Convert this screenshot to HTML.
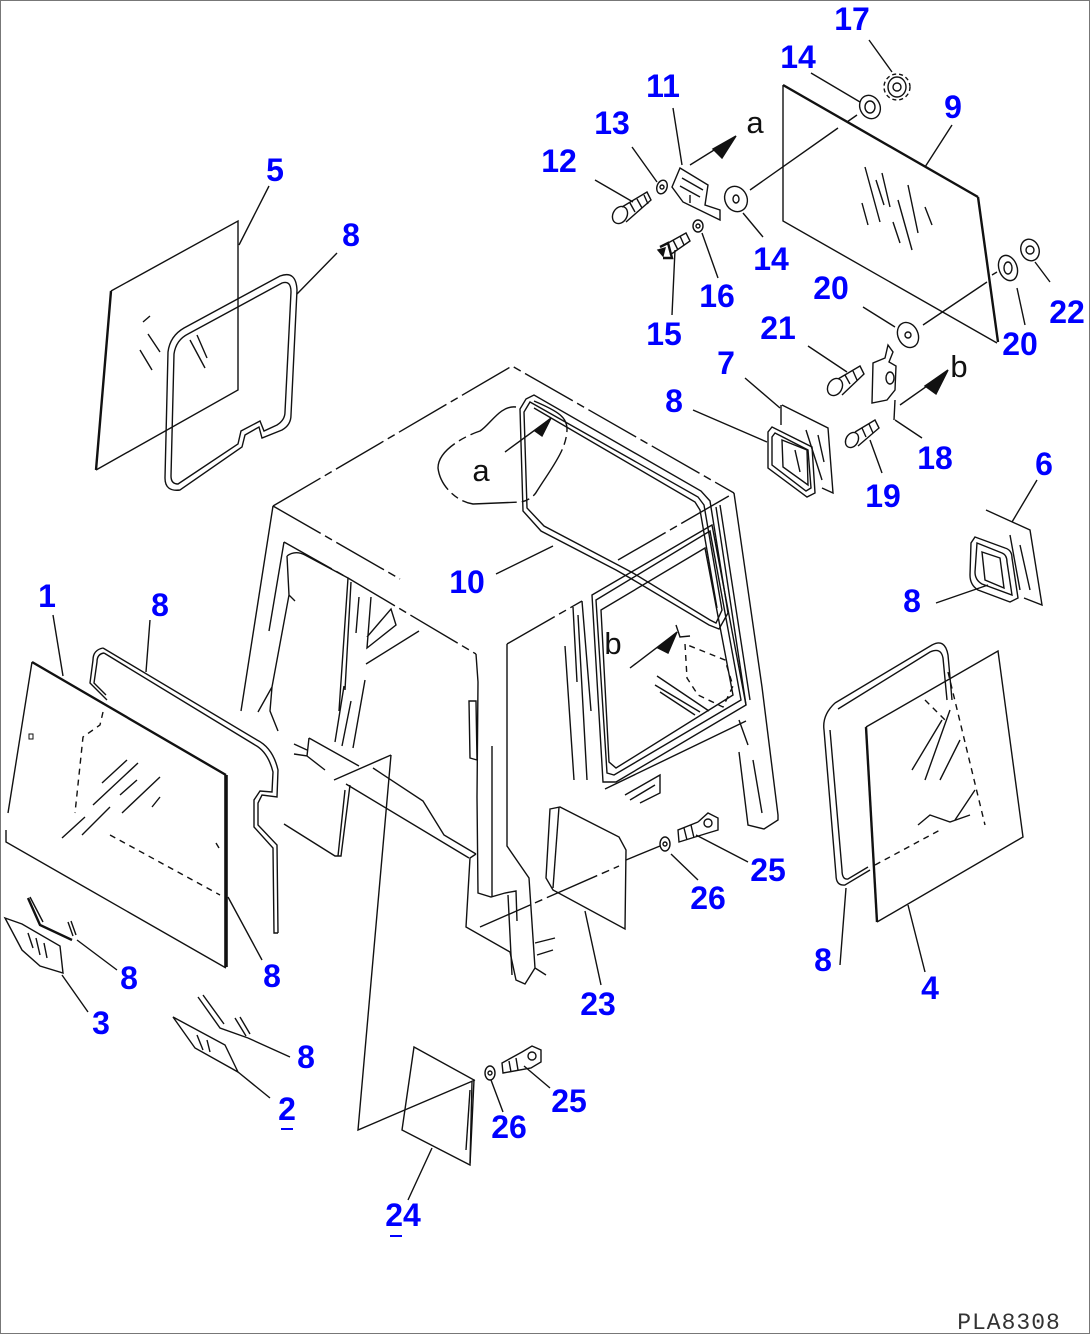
<!DOCTYPE html>
<html><head><meta charset="utf-8"><style>
html,body{margin:0;padding:0;background:#fff}
svg{display:block}
text{font-family:"Liberation Sans",sans-serif;font-size:32px;font-weight:bold;fill:#0000ff;text-anchor:middle}
text.k{fill:#111;font-size:31px;font-weight:normal}
path,line{fill:none;stroke:#111;stroke-width:1.4}
.b{stroke-width:2.4}
.t{stroke-width:3.6}
.d{stroke-dasharray:6 5}
.c{stroke-dasharray:55 5 8 5}
.f{fill:#111}
.u{stroke:#0000ff;stroke-width:2}
circle,ellipse{fill:none;stroke:#111;stroke-width:1.4}
</style></head><body>
<svg width="1090" height="1334" viewBox="0 0 1090 1334" xmlns="http://www.w3.org/2000/svg">
<rect x="0.5" y="0.5" width="1089" height="1333" fill="#fff" stroke="#777"/>

<!-- 5 glass -->
<path class="b" d="M111 291L96 470"/><path d="M111 291L238 221L238 390L96 470"/>
<path d="M143 322L150 316M148 334L160 352M190 340L205 368M140 350L152 370M197 335L207 358"/>
<!-- 5 seal -->
<path d="M168 352Q170 336 184 328L280 276Q296 270 297 290L291 415Q291 425 282 430L262 438L259 427L245 435L242 447L180 490Q165 492 165 478Z"/>
<path d="M174 354Q176 340 188 334L282 283Q291 280 291 292L285 412Q285 420 277 425L264 431L260 421L241 431L238 444L178 484Q171 484 171 476Z"/>

<!-- 1 glass -->
<path class="b" d="M32 662L226 775"/><path class="t" d="M226 775L226 967"/>
<path d="M32 662L8 813M6 830L6 842L226 968"/>
<path d="M62 838L85 817M82 835L110 807M93 805L138 763M102 783L127 760M120 795L137 780M122 813L160 777M152 807L160 797"/>
<path class="d" d="M103 712L100 725L83 737L75 813"/>
<path class="d" d="M110 835L220 895" stroke-width="2.2"/>
<path d="M216 843L219 848"/>
<rect x="29" y="734" width="4" height="5" fill="none" stroke="#111"/>
<!-- 1 seal -->
<path d="M103 648Q93 650 93 660L90 683L107 700M103 648L257 740Q273 748 278 770L277 797L262 795L258 803L258 825L277 845L278 933"/>
<path d="M104 653Q97 654 97 662L94 683L106 695M104 653L255 745Q268 752 273 772L272 792L260 791L254 800L254 827L273 848L274 933L278 933"/>

<!-- 3 -->
<path d="M5 918L22 924L60 946L63 973L40 966L22 950Z"/><path d="M28 933L33 948M36 938L40 955M44 943L47 958"/>
<path class="b" d="M28 898L40 925L72 940"/><path d="M30 897L43 922M68 922L73 936M71 921L76 935"/>
<!-- 2 -->
<path d="M173 1017L225 1045L238 1072L195 1048Z"/><path d="M197 1035L203 1050M207 1040L210 1052"/>
<path d="M198 997L220 1028L248 1038M203 995L224 1024M235 1018L246 1036M240 1017L250 1034"/>

<!-- cab top -->
<path class="c" d="M273 506L512 366L734 493"/>
<path class="c" d="M273 506L400 579"/>
<path class="c" d="M284 542L348 578L476 654"/>
<path class="c" d="M618 560L734 493"/>
<path d="M273 506L241 711M284 542L269 631M258 712L272 687L289 595L295 601M287 556L289 595M272 687L270 711L278 731M287 556Q295 550 305 555L348 578"/>
<path d="M734 493L762 687L778 815L778 820L764 829L748 825L739 752M753 760L762 813"/>
<path d="M476 654L478 682L477 797L478 893L491 897L505 893L516 891L517 921M492 746L492 897"/>
<path d="M469 701L476 701L477 760L470 758Z"/>
<path d="M507 644L507 846L529 878L535 968L546 975M535 968L525 984L516 980L510 952L466 927L470 858L476 854"/>
<path class="c" d="M507 644L582 601"/>
<path d="M582 601L591 711M573 607L577 682M565 646L574 780M578 615L587 780"/>
<path d="M535 943L555 938M537 955L553 950M508 895L512 975"/>
<!-- left inner -->
<path d="M348 578L339 711M351 582L345 690M359 597L356 633M365 680L353 748M351 701L342 746M344 686L335 742M371 597L367 648L396 625L391 609L367 637M366 664L419 631"/>
<path d="M309 738L307 756L294 754M294 744L307 750M307 756L325 770M309 738L359 766M334 780L391 755M391 755L358 1130L475 1080"/>
<path d="M373 768L423 801L444 835L476 854M346 784L469 858M350 785L341 856L335 856L284 824"/>
<path d="M345 790L338 856"/>
<!-- window -->
<path d="M592 595L712 525L746 705L616 782L603 782L592 595Z"/>
<path d="M596 600L710 531L741 700L614 775L607 773Z"/>
<path d="M601 610L705 548L733 695L616 768L609 762Z"/>
<path d="M716 507L746 705M720 505L750 700"/>
<path d="M605 789L746 721M625 795L660 775L660 793L640 803M630 800L655 785M739 720L748 745"/>
<path class="d" d="M685 644L687 678L698 695L723 707L733 686L725 660Z"/>
<path d="M657 676L709 711M655 685L700 712M660 692L695 715"/>
<!-- 10 seal -->
<path d="M526 399L534 395L701 491L710 501L728 613L719 629L709 625L630 578L616 570L541 531L523 511L520 409Z"/>
<path d="M530 402L698 497L704 505L722 610L716 623L710 620L633 573L618 565L544 526L527 508L524 412Z"/>
<path d="M534 408L695 502L700 510L717 608"/>
<!-- a bubble -->
<path class="c" d="M516 407C500 405 490 425 480 431C465 436 438 450 438 468C440 485 455 501 473 504L521 502C530 500 535 495 537 491C550 470 567 450 567 429C567 418 560 412 534 401"/>
<path d="M505 452L550 419"/><path class="f" d="M535 431L551 418L542 436Z"/>
<!-- b -->
<path d="M630 668L676 633"/><path class="f" d="M658 648L677 632L668 653Z"/><path d="M676 625L680 637L690 636"/>

<!-- 23 -->
<path d="M550 809L560 807L619 837L626 850L625 929L553 890L546 878Z"/>
<path d="M559 807L553 888"/>
<path class="c" d="M480 927L619 866M626 860L660 846"/>
<!-- 24 -->
<path d="M414 1047L474 1080L470 1165L402 1130Z"/><path d="M470 1090L466 1150"/>
<path d="M472 1082L470 1163"/>

<!-- 4 glass -->
<path class="b" d="M866 727L877 922"/><path d="M866 727L998 651L1023 837L877 922"/>
<path d="M942 720L912 770M950 710L925 780M960 740L940 780M975 790L955 820"/>
<path class="d" d="M948 672L985 825M925 700L945 720"/>
<path class="d" d="M875 865L940 830"/>
<path d="M918 825L930 815L950 822L970 815"/>
<!-- 4 seal -->
<path d="M835 703L932 645Q945 638 948 655L952 700M835 703Q822 715 824 730L836 875Q836 886 845 885L870 870"/>
<path d="M838 709L930 652Q941 647 943 658L947 700M830 730L842 870Q842 880 848 879L868 867"/>

<!-- 6 -->
<path d="M986 510L1030 530L1042 605L1024 598"/><path d="M1010 535L1020 590M1020 545L1030 590"/>
<path d="M975 537L1005 548Q1012 550 1012 558L1018 598L1010 602L978 590Q970 585 970 575L971 543Z"/>
<path d="M977 543L1002 553Q1007 555 1007 562L1012 595L982 584Q975 580 975 572Z"/>
<path d="M982 552L1000 558L1004 588L985 580Z"/>
<!-- 7 -->
<path d="M782 405L828 428L833 493L822 488M781 405L781 425"/>
<path d="M806 430L822 480M818 435L824 462"/>
<path d="M772 427L812 447L815 493L807 497L768 468L768 432Z"/>
<path d="M775 433L808 450L811 488L806 491L772 465L772 437Z"/>
<path d="M782 440L807 450L808 485L783 467Z"/>
<path d="M795 450L800 472"/>

<!-- 9 glass -->
<path class="b" d="M783 85L978 197"/><path class="b" d="M978 197L998 342"/>
<path d="M783 85L783 221L997 343"/>
<path d="M865 167L880 222M882 173L890 207M862 203L868 225M898 200L912 250M908 185L918 233M925 207L932 225M893 222L900 243M876 180L884 205"/>
<!-- washers -->
<ellipse cx="870" cy="107" rx="10" ry="12" transform="rotate(-25 870 107)"/><ellipse cx="870" cy="107" rx="5" ry="6"/>
<ellipse cx="736" cy="199" rx="11" ry="13" transform="rotate(-25 736 199)"/><ellipse cx="736" cy="199" rx="3" ry="4"/>
<ellipse cx="897" cy="87" r="9" rx="9" ry="10"/><ellipse cx="897" cy="87" rx="13" ry="13" stroke-dasharray="4 3"/><circle cx="897" cy="87" r="4"/>
<ellipse cx="1008" cy="268" rx="9" ry="13" transform="rotate(-20 1008 268)"/><ellipse cx="1008" cy="268" rx="4" ry="6"/>
<ellipse cx="908" cy="335" rx="10" ry="13" transform="rotate(-25 908 335)"/><circle cx="908" cy="335" r="3"/>
<ellipse cx="1030" cy="250" rx="9" ry="11" transform="rotate(-20 1030 250)"/><circle cx="1030" cy="250" r="4"/>
<path d="M750 190L838 128M847 122L857 115M923 325L987 282M992 275L997 272"/>
<!-- 11 bracket -->
<path d="M680 168L708 185L705 205L720 210L720 220L683 202L672 187Z"/>
<path d="M682 178L703 190M680 186L700 197M690 203L690 195"/>
<!-- 12 bolt -->
<ellipse cx="620" cy="215" rx="7" ry="9" transform="rotate(30 620 215)"/><path d="M622 207L647 192L651 200L626 222M630 203L635 212M637 199L642 208M644 195L648 204"/>
<ellipse cx="662" cy="187" rx="5" ry="7" transform="rotate(20 662 187)"/><circle cx="662" cy="187" r="2"/>
<!-- 15/16 -->
<path class="b" d="M660 247L668 243L672 258L663 258"/><path d="M668 243L686 233L690 241L670 255M673 240L678 250M680 236L684 245"/><path class="f" d="M658 250L665 248L663 256Z"/>
<ellipse cx="698" cy="226" rx="5" ry="6"/><circle cx="698" cy="226" r="2"/>
<!-- 21 -->
<ellipse cx="835" cy="387" rx="7" ry="9" transform="rotate(30 835 387)"/><path d="M838 379L860 366L864 374L842 395M845 375L850 384M853 371L857 380"/>
<!-- 19 -->
<ellipse cx="852" cy="440" rx="6" ry="8" transform="rotate(30 852 440)"/><path d="M855 432L875 420L879 428L858 446M862 428L866 437M869 424L873 433"/>
<!-- 18 -->
<path d="M888 345L893 352L889 362L896 366L895 390L887 400L872 403L873 363L885 358Z"/><ellipse cx="890" cy="378" rx="4" ry="6"/>
<path d="M895 400L894 420"/>
<!-- 25/26 -->
<path d="M698 822L708 813L718 818L718 830L708 833L679 842L678 830L698 822M684 828L687 840M691 825L694 838"/><circle cx="708" cy="823" r="4"/>
<ellipse cx="665" cy="844" rx="5" ry="7"/><circle cx="665" cy="844" r="2"/>
<path d="M522 1052L532 1046L541 1050L541 1062L531 1068L503 1073L502 1063L522 1052M509 1061L511 1072M516 1058L518 1070"/><circle cx="532" cy="1056" r="4"/>
<ellipse cx="490" cy="1073" rx="5" ry="7"/><circle cx="490" cy="1073" r="2"/>
<!-- arrows -->
<path d="M690 165L735 137"/><path class="f" d="M713 149L736 136L722 158Z"/>
<path d="M900 405L947 372"/><path class="f" d="M925 386L948 370L936 394Z"/>

<!-- leaders -->
<path d="M269 186L239 245M337 253L297 294M53 615L63 676M150 620L146 672M117 970L77 940M88 1012L62 975M262 960L228 897M290 1057L248 1038M270 1098L238 1072M840 965L846 888M925 972L908 905M936 603L988 585M1037 480L1012 522M693 410L767 442M745 378L780 408M496 574L553 546M601 985L585 911M748 862L696 835M698 880L671 854M550 1088L524 1066M503 1112L491 1080M408 1200L432 1148M952 125L925 167M869 40L892 72M811 73L860 102M763 237L743 213M863 307L895 327M1025 325L1017 288M1050 282L1035 262M808 346L847 372M922 438L895 420M882 473L870 440M673 108L682 165M632 147L657 182M595 180L633 202M672 315L675 250M718 278L702 233"/>

<!-- labels -->
<text x="47" y="607">1</text>
<text x="287" y="1120">2</text><path class="u" d="M281 1129H293"/>
<text x="101" y="1034">3</text>
<text x="930" y="999">4</text>
<text x="275" y="181">5</text>
<text x="1044" y="475">6</text>
<text x="726" y="374">7</text>
<text x="351" y="246">8</text><text x="160" y="616">8</text><text x="129" y="989">8</text><text x="272" y="987">8</text><text x="306" y="1068">8</text><text x="674" y="412">8</text><text x="912" y="612">8</text><text x="823" y="971">8</text>
<text x="953" y="118">9</text>
<text x="467" y="593">10</text>
<text x="663" y="97">11</text>
<text x="559" y="172">12</text>
<text x="612" y="134">13</text>
<text x="798" y="68">14</text><text x="771" y="270">14</text>
<text x="664" y="345">15</text>
<text x="717" y="307">16</text>
<text x="852" y="30">17</text>
<text x="935" y="469">18</text>
<text x="883" y="507">19</text>
<text x="831" y="299">20</text><text x="1020" y="355">20</text>
<text x="778" y="339">21</text>
<text x="1067" y="323">22</text>
<text x="598" y="1015">23</text>
<text x="403" y="1226">24</text><path class="u" d="M390 1236H402"/>
<text x="768" y="881">25</text><text x="569" y="1112">25</text>
<text x="708" y="909">26</text><text x="509" y="1138">26</text>
<text class="k" x="755" y="133">a</text><text class="k" x="481" y="481">a</text>
<text class="k" x="959" y="377">b</text><text class="k" x="613" y="654">b</text>
<text x="1009" y="1329" style="fill:#333;font-weight:normal;font-family:'Liberation Mono',monospace;font-size:23px;letter-spacing:1px">PLA8308</text>
</svg>
</body></html>
